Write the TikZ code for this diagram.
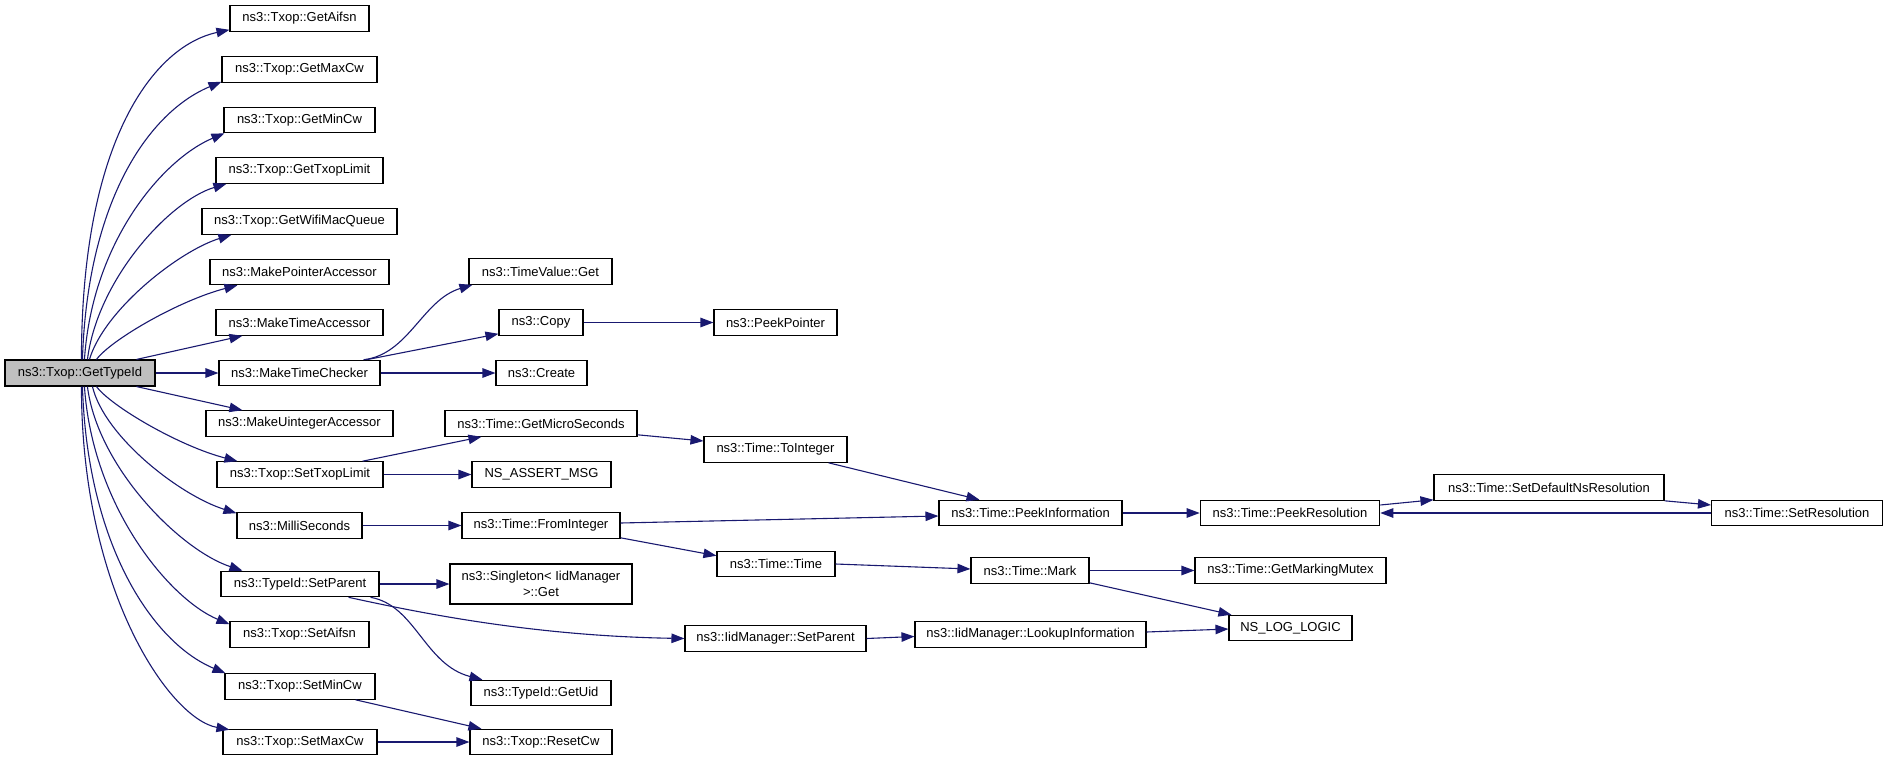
\documentclass[tikz,border=0pt]{standalone}
\usepackage{fontspec}
\setmainfont{Liberation Sans}
\usetikzlibrary{arrows.meta,calc}
\definecolor{edgeblue}{RGB}{25,25,112}
\definecolor{rootgray}{RGB}{191,191,191}
\begin{document}
\begin{tikzpicture}[x=1pt,y=-1pt,
  fn/.style={draw=black, line width=1.1pt, inner sep=0pt, minimum height=25.5pt,
             font=\fontsize{13}{15.5}\selectfont, anchor=center, align=center},
  root/.style={fn, fill=rootgray},
  call/.style={draw=edgeblue, line width=1.1pt, -{Triangle[length=13pt,width=9.5pt]}}
]
\fill[white] (0,0) rectangle (1888,763);
\useasboundingbox (0,0) rectangle (1888,763);

% column 1
\node[root, minimum width=150pt, minimum height=26pt] (gt) at (80,373) {ns3::Txop::GetTypeId};
% column 2
\node[fn, minimum width=139pt] (aif)   at (299.5,18.5)  {ns3::Txop::GetAifsn};
\node[fn, minimum width=155pt] (maxcw) at (299.5,69.5)  {ns3::Txop::GetMaxCw};
\node[fn, minimum width=151pt] (mincw) at (299.5,120)   {ns3::Txop::GetMinCw};
\node[fn, minimum width=167pt] (gtl)   at (299.5,170.5) {ns3::Txop::GetTxopLimit};
\node[fn, minimum width=195pt] (wmq)   at (299.5,221.5) {ns3::Txop::GetWifiMacQueue};
\node[fn, minimum width=179pt] (mpa)   at (299.5,272)   {ns3::MakePointerAccessor};
\node[fn, minimum width=167pt] (mta)   at (299.5,322.5) {ns3::MakeTimeAccessor};
\node[fn, minimum width=161pt] (mtc)   at (299.5,373)   {ns3::MakeTimeChecker};
\node[fn, minimum width=187pt] (mua)   at (299.5,423.5) {ns3::MakeUintegerAccessor};
\node[fn, minimum width=166pt] (stl)   at (300,474.5)   {ns3::Txop::SetTxopLimit};
\node[fn, minimum width=125pt] (ms)    at (299.5,525.5) {ns3::MilliSeconds};
\node[fn, minimum width=158pt] (tsp)   at (300,584)     {ns3::TypeId::SetParent};
\node[fn, minimum width=139pt] (saif)  at (299.5,634.5) {ns3::Txop::SetAifsn};
\node[fn, minimum width=150pt] (smin)  at (300,686.5)   {ns3::Txop::SetMinCw};
\node[fn, minimum width=154pt] (smax)  at (300,742)     {ns3::Txop::SetMaxCw};
% column 3
\node[fn, minimum width=143pt] (tvg)    at (540.5,271.5) {ns3::TimeValue::Get};
\node[fn, minimum width=84pt]  (copy)   at (541,322.5)   {ns3::Copy};
\node[fn, minimum width=91pt]  (create) at (541.5,373)   {ns3::Create};
\node[fn, minimum width=192pt] (gms)    at (541,423.5)   {ns3::Time::GetMicroSeconds};
\node[fn, minimum width=139pt] (nam)    at (541.5,474.5) {NS\_ASSERT\_MSG};
\node[fn, minimum width=158pt] (fi)     at (541,525.5)   {ns3::Time::FromInteger};
\node[fn, minimum width=182pt, minimum height=40pt] (sg) at (541,584) {ns3::Singleton< IidManager\\>::Get};
\node[fn, minimum width=140pt] (guid)   at (541,693)     {ns3::TypeId::GetUid};
\node[fn, minimum width=142pt] (rcw)    at (541,742)     {ns3::Txop::ResetCw};
% column 4
\node[fn, minimum width=123pt] (pp)  at (775.5,322.5) {ns3::PeekPointer};
\node[fn, minimum width=143pt] (ti)  at (775.5,449.5) {ns3::Time::ToInteger};
\node[fn, minimum width=118pt] (tt)  at (776,564)     {ns3::Time::Time};
\node[fn, minimum width=181pt] (isp) at (775.5,638.5) {ns3::IidManager::SetParent};
% column 5
\node[fn, minimum width=183pt] (pi)   at (1030.5,513)   {ns3::Time::PeekInformation};
\node[fn, minimum width=118pt] (mark) at (1030,570.5)   {ns3::Time::Mark};
\node[fn, minimum width=231pt] (lu)   at (1030.5,634.5) {ns3::IidManager::LookupInformation};
% column 6
\node[fn, minimum width=179.5pt] (pr)  at (1290,513)    {ns3::Time::PeekResolution};
\node[fn, minimum width=191pt]   (gmm) at (1290.5,570.5) {ns3::Time::GetMarkingMutex};
\node[fn, minimum width=123pt]   (nll) at (1290.5,628)  {NS\_LOG\_LOGIC};
% column 7
\node[fn, minimum width=230pt] (sdr) at (1549,487.5) {ns3::Time::SetDefaultNsResolution};
\node[fn, minimum width=171pt] (sr)  at (1797,513)   {ns3::Time::SetResolution};

% edges from GetTypeId (upwards)
\draw[call] ($(gt.north west)+(77,0)$) .. controls +(0,-220) and +(-75,16) .. ($(aif.south west)+(0,-2)$);
\draw[call] ($(gt.north west)+(78,0)$) .. controls +(5,-160) and +(-72,30) .. ($(maxcw.south west)+(0,-1)$);
\draw[call] ($(gt.north west)+(80,0)$) .. controls +(8,-120) and +(-60,25) .. ($(mincw.south west)+(1,0)$);
\draw[call] ($(gt.north west)+(83,0)$) .. controls +(10,-80) and +(-57,17) .. ($(gtl.south west)+(11,0)$);
\draw[call] ($(gt.north west)+(85,0)$) .. controls +(15,-50) and +(-52,16) .. ($(wmq.south west)+(30,0)$);
\draw[call] ($(gt.north west)+(92,0)$) .. controls +(15,-20) and +(-58,15) .. ($(mpa.south west)+(28,0)$);
\draw[call] ($(gt.north west)+(132,0)$) -- ($(mta.south west)+(27,0)$);
\draw[call] (gt.east) -- (mtc.west);
% edges from GetTypeId (downwards)
\draw[call] ($(gt.south west)+(132,0)$) -- ($(mua.north west)+(37,0)$);
\draw[call] ($(gt.south west)+(92,0)$) .. controls +(15,20) and +(-58,-15) .. ($(stl.north west)+(21,0)$);
\draw[call] ($(gt.south west)+(88,0)$) .. controls +(12,50) and +(-57,-18) .. ($(ms.north west)+(0,1)$);
\draw[call] ($(gt.south west)+(83,0)$) .. controls +(10,80) and +(-63,-21) .. ($(tsp.north west)+(22,0)$);
\draw[call] ($(gt.south west)+(80,0)$) .. controls +(8,120) and +(-60,-25) .. ($(saif.north west)+(0,3)$);
\draw[call] ($(gt.south west)+(78,0)$) .. controls +(5,160) and +(-72,-30) .. ($(smin.north west)+(1,0)$);
\draw[call] ($(gt.south west)+(77,0)$) .. controls +(0,204) and +(-60,-11) .. ($(smax.north west)+(7,1)$);

% second level
\draw[call] ($(mtc.north east)+(-17,0)$) .. controls +(45,-5) and +(-50,15) .. ($(tvg.south west)+(4,0)$);
\draw[call] ($(mtc.north east)+(-14,0)$) -- ($(copy.south west)+(0,-2)$);
\draw[call] (mtc.east) -- (create.west);
\draw[call] (copy.east) -- (pp.west);
\draw[call] ($(stl.north east)+(-21,0)$) -- ($(gms.south west)+(37,0)$);
\draw[call] (stl.east) -- (nam.west);
\draw[call] ($(gms.south east)+(0,-2)$) -- ($(ti.west)+(0,-8.5)$);
\draw[call] ($(ti.south east)+(-19,0)$) -- ($(pi.north west)+(41,0)$);
\draw[call] (ms.east) -- (fi.west);
\draw[call] ($(fi.east)+(0,-2.5)$) -- ($(pi.west)+(0,3)$);
\draw[call] ($(fi.south east)+(0,-1)$) -- ($(tt.north west)+(0,5)$);
\draw[call] (tt.east) -- ($(mark.west)+(0,-1.5)$);
\draw[call] (mark.east) -- (gmm.west);
\draw[call] ($(mark.south east)+(0,-1)$) -- ($(nll.north west)+(3,0)$);
\draw[call] ($(lu.east)+(0,-2.5)$) -- ($(nll.west)+(0,1)$);
\draw[call] (isp.east) -- ($(lu.west)+(0,2)$);
\draw[call] (tsp.east) -- (sg.west);
\draw[call] ($(tsp.south east)+(-31,0)$) .. controls +(82,18) and +(-145,-2.5) .. (isp.west);
\draw[call] ($(tsp.south east)+(-9,0)$) .. controls +(45,8) and +(-58,-15) .. ($(guid.north west)+(12,0)$);
\draw[call] ($(smin.south east)+(-20,0)$) -- ($(rcw.north west)+(12,0)$);
\draw[call] (smax.east) -- (rcw.west);
\draw[call] (pi.east) -- (pr.west);
\draw[call] ($(pr.east)+(0,-8)$) -- ($(sdr.south west)+(0,-1)$);
\draw[call] (sdr.south east) -- ($(sr.west)+(0,-8)$);
\draw[call] (sr.west) -- (pr.east);
\end{tikzpicture}
\end{document}
